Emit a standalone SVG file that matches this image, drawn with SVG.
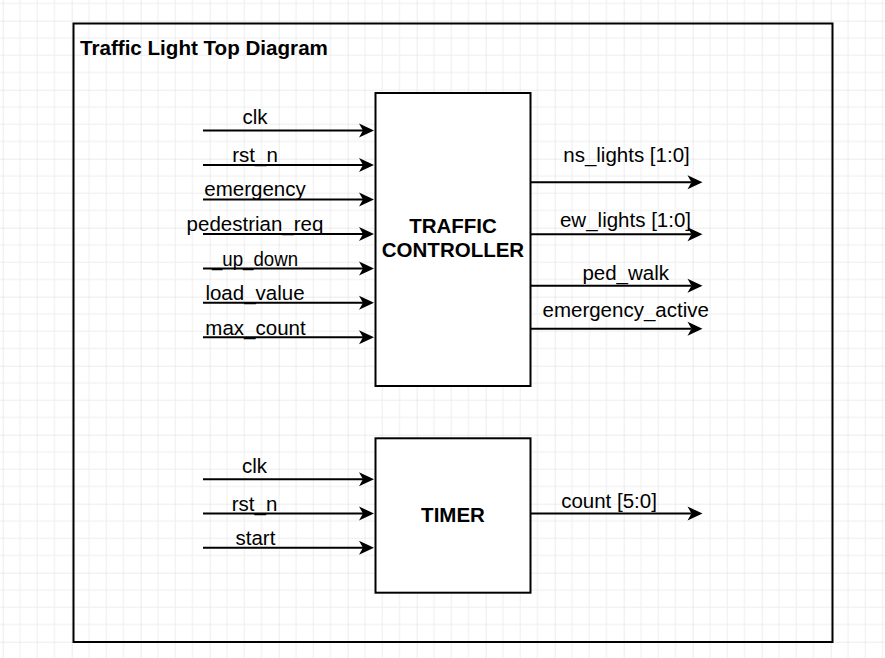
<svg xmlns="http://www.w3.org/2000/svg" width="885" height="658" viewBox="0 0 885 658">
  <style>
    .lbl { font-family: "Liberation Sans", Arial, sans-serif; font-size: 20.5px; fill: #000; text-anchor: middle; }
    .title { font-family: "Liberation Sans", Arial, sans-serif; font-size: 20.6px; font-weight: bold; fill: #000; }
    .blk { font-family: "Liberation Sans", Arial, sans-serif; font-size: 20.5px; font-weight: bold; fill: #000; text-anchor: middle; }
    .box { fill: #fff; stroke: #000; stroke-width: 2; }
    .wire { stroke: #000; stroke-width: 2; fill: none; marker-end: url(#arr); }
  </style>
  <defs>
    <pattern id="grid" patternUnits="userSpaceOnUse" x="2.7" y="20.7" width="69" height="69">
      <path d="M17.25 0V69M34.5 0V69M51.75 0V69M0 17.25H69M0 34.5H69M0 51.75H69" stroke="#eeeeee" stroke-width="1" fill="none"/>
      <path d="M0 0V69M0 0H69" stroke="#d9d9d9" stroke-width="1" fill="none"/>
    </pattern>
    <marker id="arr" markerUnits="userSpaceOnUse" markerWidth="17" markerHeight="15" viewBox="0 0 17 15" refX="5" refY="7.5" orient="auto">
      <path d="M1,0.5 L16,7.5 L1,14.5 L5,7.5 Z" fill="#000"/>
    </marker>
  </defs>
  <rect width="885" height="658" fill="#fff"/>
  <rect width="885" height="658" fill="url(#grid)"/>

  <g id="frame">
    <rect x="73.5" y="23.5" width="759" height="618.5" fill="none" stroke="#000" stroke-width="2"/>
    <text class="title" x="80" y="55">Traffic Light Top Diagram</text>
  </g>

  <g id="connectors">
    <line class="wire" x1="203" y1="130.5" x2="363" y2="130.5"/>
    <line class="wire" x1="203" y1="165" x2="363" y2="165"/>
    <line class="wire" x1="203" y1="199.5" x2="363" y2="199.5"/>
    <line class="wire" x1="203" y1="234" x2="363" y2="234"/>
    <line class="wire" x1="203" y1="268.5" x2="363" y2="268.5"/>
    <line class="wire" x1="203" y1="302.7" x2="363" y2="302.7"/>
    <line class="wire" x1="203" y1="337.3" x2="363" y2="337.3"/>
    <line class="wire" x1="531" y1="182.3" x2="691.5" y2="182.3"/>
    <line class="wire" x1="531" y1="234.3" x2="691.5" y2="234.3"/>
    <line class="wire" x1="531" y1="285.7" x2="691.5" y2="285.7"/>
    <line class="wire" x1="531" y1="328.7" x2="691.5" y2="328.7"/>
    <line class="wire" x1="203" y1="479.3" x2="363" y2="479.3"/>
    <line class="wire" x1="203" y1="513.5" x2="363" y2="513.5"/>
    <line class="wire" x1="203" y1="547.7" x2="363" y2="547.7"/>
    <line class="wire" x1="531" y1="513.5" x2="691.5" y2="513.5"/>
    <text class="lbl" x="255" y="124">clk</text>
    <text class="lbl" x="255" y="161.5">rst_n</text>
    <text class="lbl" x="255" y="196">emergency</text>
    <text class="lbl" x="255" y="230.5">pedestrian_req</text>
    <text class="lbl" x="255" y="265.5" textLength="86" lengthAdjust="spacingAndGlyphs">_up_down</text>
    <text class="lbl" x="255" y="299.5">load_value</text>
    <text class="lbl" x="255.5" y="334.5">max_count</text>
    <text class="lbl" x="626.5" y="161.7">ns_lights [1:0]</text>
    <text class="lbl" x="625.5" y="227">ew_lights [1:0]</text>
    <text class="lbl" x="625.7" y="279.5">ped_walk</text>
    <text class="lbl" x="625.7" y="317">emergency_active</text>
    <text class="lbl" x="254.6" y="472.7">clk</text>
    <text class="lbl" x="254.6" y="511">rst_n</text>
    <text class="lbl" x="255.4" y="544.5">start</text>
    <text class="lbl" x="609" y="508.3">count [5:0]</text>
  </g>

  <g id="traffic_controller">
    <rect class="box" x="375.5" y="93" width="155" height="293"/>
    <text class="blk" x="453" y="233.3">TRAFFIC</text>
    <text class="blk" x="453" y="256.7">CONTROLLER</text>
  </g>

  <g id="timer">
    <rect class="box" x="375.5" y="438.3" width="155" height="154.4"/>
    <text class="blk" x="453" y="521.7">TIMER</text>
  </g>
</svg>
